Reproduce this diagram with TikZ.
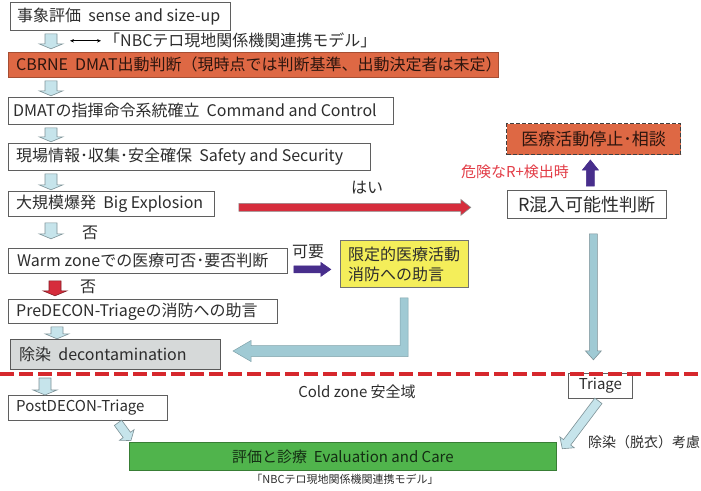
\documentclass[tikz,border=0pt]{standalone}
\usepackage{fontspec}
\setmainfont{Noto Sans CJK JP}
\usetikzlibrary{calc,arrows.meta}
\definecolor{orangebox}{RGB}{222,104,68}
\definecolor{yellowbox}{RGB}{244,238,90}
\definecolor{greenbox}{RGB}{80,180,76}
\definecolor{greybox}{RGB}{214,217,217}
\definecolor{ablue}{RGB}{198,228,235}
\definecolor{aedge}{RGB}{125,145,150}
\definecolor{lblue}{RGB}{160,202,212}
\definecolor{redarr}{RGB}{214,45,60}
\definecolor{purp}{RGB}{72,46,140}
\definecolor{dashred}{RGB}{214,40,45}
\definecolor{warnred}{RGB}{226,60,70}
\definecolor{textc}{RGB}{45,45,45}
\definecolor{boxline}{RGB}{95,95,95}
\tikzset{
  box/.style={draw=boxline, line width=0.8pt, fill=white, rectangle, anchor=north west, inner sep=0pt},
  txt/.style={inner sep=0pt, text=textc, font=\fontsize{15}{18}\selectfont},
  bigtxt/.style={inner sep=0pt, text=textc, font=\fontsize{16}{19}\selectfont},
  pics/barr/.style n args={6}{code={
    \draw[line width=0.6pt, draw=#6, fill=#5, line join=miter]
      (0,-#2) -- ({#1-#4},-#2) -- ({#1-#4},-#3) -- (#1,0) -- ({#1-#4},#3) -- ({#1-#4},#2) -- (0,#2) -- cycle;}},
}
\begin{document}
\begin{tikzpicture}[x=1pt,y=-1pt]
\useasboundingbox (0,0) rectangle (701,490);

% ---- main column boxes
\node[box, minimum width=220pt, minimum height=28pt] (b1) at (10,2) {};
\node[bigtxt, anchor=west] (t1) at ([xshift=7pt]b1.west) {事象評価\ \ sense and size-up};

\node[box, fill=orangebox, draw=orangebox!75!black, minimum width=490pt, minimum height=25pt] (b2) at (8,52) {};
\node[bigtxt, anchor=west, text=black!80!orangebox] (t2) at ([xshift=8pt]b2.west) {CBRNE\ \ DMAT出動判断（現時点では判断基準、出動決定者は未定）};

\node[box, minimum width=385pt, minimum height=27pt] (b3) at (8,97) {};
\node[bigtxt, anchor=west] (t3) at ([xshift=5pt]b3.west) {DMATの指揮命令系統確立\ \ Command and Control};

\node[box, minimum width=362pt, minimum height=27pt] (b4) at (8,143) {};
\node[bigtxt, anchor=west] (t4) at ([xshift=8pt]b4.west) {現場情報･収集･安全確保\ \ Safety and Security};

\node[box, minimum width=206pt, minimum height=25pt] (b5) at (8,191) {};
\node[bigtxt, anchor=west] (t5) at ([xshift=8pt]b5.west) {大規模爆発\ \ Big Explosion};

\node[box, minimum width=279pt, minimum height=25pt] (b6) at (8,248) {};
\node[bigtxt, anchor=west] (t6) at ([xshift=9pt]b6.west) {Warm zoneでの医療可否･要否判断};

\node[box, minimum width=269pt, minimum height=24pt] (b7) at (8,299) {};
\node[bigtxt, anchor=west] (t7) at ([xshift=8pt]b7.west) {PreDECON-Triageの消防への助言};

\node[box, fill=greybox, draw=black!65, line width=1pt, minimum width=210pt, minimum height=30pt] (b8) at (10,339) {};
\node[bigtxt, anchor=west] (t8) at ([xshift=9pt]b8.west) {除染\ \ decontamination};

\node[box, minimum width=159pt, minimum height=25pt] (b9) at (8,395) {};
\node[txt, anchor=west] (t9) at ([xshift=8pt]b9.west) {PostDECON-Triage};

\node[box, fill=greenbox, draw=greenbox!70!black, minimum width=427pt, minimum height=28pt] (care) at (129,442) {};
\node[txt, text=black!75!greenbox] (tcare) at (care.center) {評価と診療\ \ Evaluation and Care};

% ---- right side boxes
\node[box, minimum width=64pt, minimum height=25pt] (tri) at (568,373) {};
\node[txt] (ttri) at (tri.center) {Triage};

\node[box, minimum width=159pt, minimum height=28pt] (R) at (507,190) {};
\node[txt, font=\fontsize{18}{21}\selectfont] (tR) at (R.center) {R混入可能性判断};

\node[box, fill=orangebox, draw=black!75, dashed, dash pattern=on 4pt off 2pt, line width=1.4pt, minimum width=174pt, minimum height=31pt] (stop) at (506,123) {};
\node[txt, font=\fontsize{17}{20}\selectfont, text=black!80!orangebox] (tstop) at (stop.center) {医療活動停止･相談};

\node[box, fill=yellowbox, draw=black!55, minimum width=128pt, minimum height=47pt] (yel) at (340,240) {};
\node[bigtxt, anchor=west, align=left, font=\fontsize{16}{20}\selectfont] (tyel) at ([xshift=8pt]yel.west) {限定的医療活動\\消防への助言};

% ---- small texts
\coordinate (da) at ($(b1.south west)+(60,10)$);
\node[bigtxt, anchor=west] (nbc) at ($(b1.south west)+(94,10)$) {「NBCテロ現地関係機関連携モデル」};
\draw[line width=0.7pt, {Stealth[length=4pt,width=3.5pt]}-{Stealth[length=4pt,width=3.5pt]}] (da) -- ([xshift=-3pt]nbc.west);

\node[bigtxt] (hai) at (367,188) {はい};
\node[bigtxt] (kayo) at (308,252) {可要};
\node[bigtxt] (no1) at (90,233) {否};
\node[bigtxt] (no2) at (88,287) {否};
\node[txt, text=warnred] (kiken) at (515,172) {危険なR+検出時};
\node[txt] (cold) at (357,392) {Cold zone 安全域};
\node[txt, font=\fontsize{14}{17}\selectfont, anchor=west] (josen) at (588,442) {除染（脱衣）考慮};
\node[txt, font=\fontsize{11}{13}\selectfont] (cap) at (345,479) {「NBCテロ現地関係機関連携モデル」};

% ---- red dashed zone line
\draw[dashred, line width=3.5pt, dash pattern=on 14pt off 5pt] (0,374) -- (701,374);

% ---- block arrows on main column
\pic[rotate=-90] at ($(b1.south west)+(41,3)$) {barr={15}{6}{12}{5}{ablue}{aedge}};
\pic[rotate=-90] at ($(b2.south west)+(43,3)$) {barr={15}{6}{12}{5}{ablue}{aedge}};
\pic[rotate=-90] at ($(b3.south west)+(43,3)$) {barr={14}{6}{12}{5}{ablue}{aedge}};
\pic[rotate=-90] at ($(b4.south west)+(43,3)$) {barr={16}{6}{12}{5}{ablue}{aedge}};
\pic[rotate=-90] at ($(b5.south west)+(43,6)$) {barr={16}{6}{12}{5}{ablue}{aedge}};
\pic[rotate=-90] at ($(b6.south west)+(47,7)$) {barr={15}{6}{12}{5}{redarr}{redarr!60!black}};
\pic[rotate=-90] at ($(b7.south west)+(49,3)$) {barr={12}{6}{12}{5}{ablue}{aedge}};
\pic[rotate=-90] at ($(b8.south west)+(35,8)$) {barr={17}{6}{12}{5}{ablue}{aedge}};

% ---- long arrows
\pic at ($(b5.east)+(24,3.5)$) {barr={232}{4}{8}{10}{redarr}{black!45}};
\pic at ($(b6.east)+(6,8.5)$) {barr={37}{3.5}{7}{10}{purp}{purp}};
\pic[rotate=90] at ($(R.north)+(3.5,-4)$) {barr={26}{4}{8}{10}{purp}{purp}};
\pic[rotate=-90] at ($(R.south)+(6.5,15)$) {barr={126}{4}{8}{9}{lblue}{aedge}};
\pic[rotate=-54] at ($(b9.south west)+(110,2)$) {barr={22}{4.5}{9}{7}{ablue}{aedge}};
\pic[rotate=-127] at ($(tri.south)+(-2,2)$) {barr={60}{4.5}{9}{8}{ablue}{aedge}};

% ---- L-shaped arrow from yellow box to decontamination
\coordinate (ls) at ($(yel.south west)+(64,10)$);
\coordinate (le) at ($(b8.east)+(12,-3.5)$);
\draw[fill=lblue, draw=lblue!80!black, line width=0.5pt] let \p1=(ls), \p2=(le) in
  (\x1-4pt,\y1) -- (\x1+4pt,\y1) -- (\x1+4pt,\y2-5.5pt) -- (\x2+18pt,\y2-5.5pt)
  -- (\x2+18pt,\y2-10.5pt) -- (\x2,\y2) -- (\x2+18pt,\y2+10.5pt) -- (\x2+18pt,\y2+5.5pt)
  -- (\x1-4pt,\y2+5.5pt) -- cycle;
\end{tikzpicture}
\end{document}
